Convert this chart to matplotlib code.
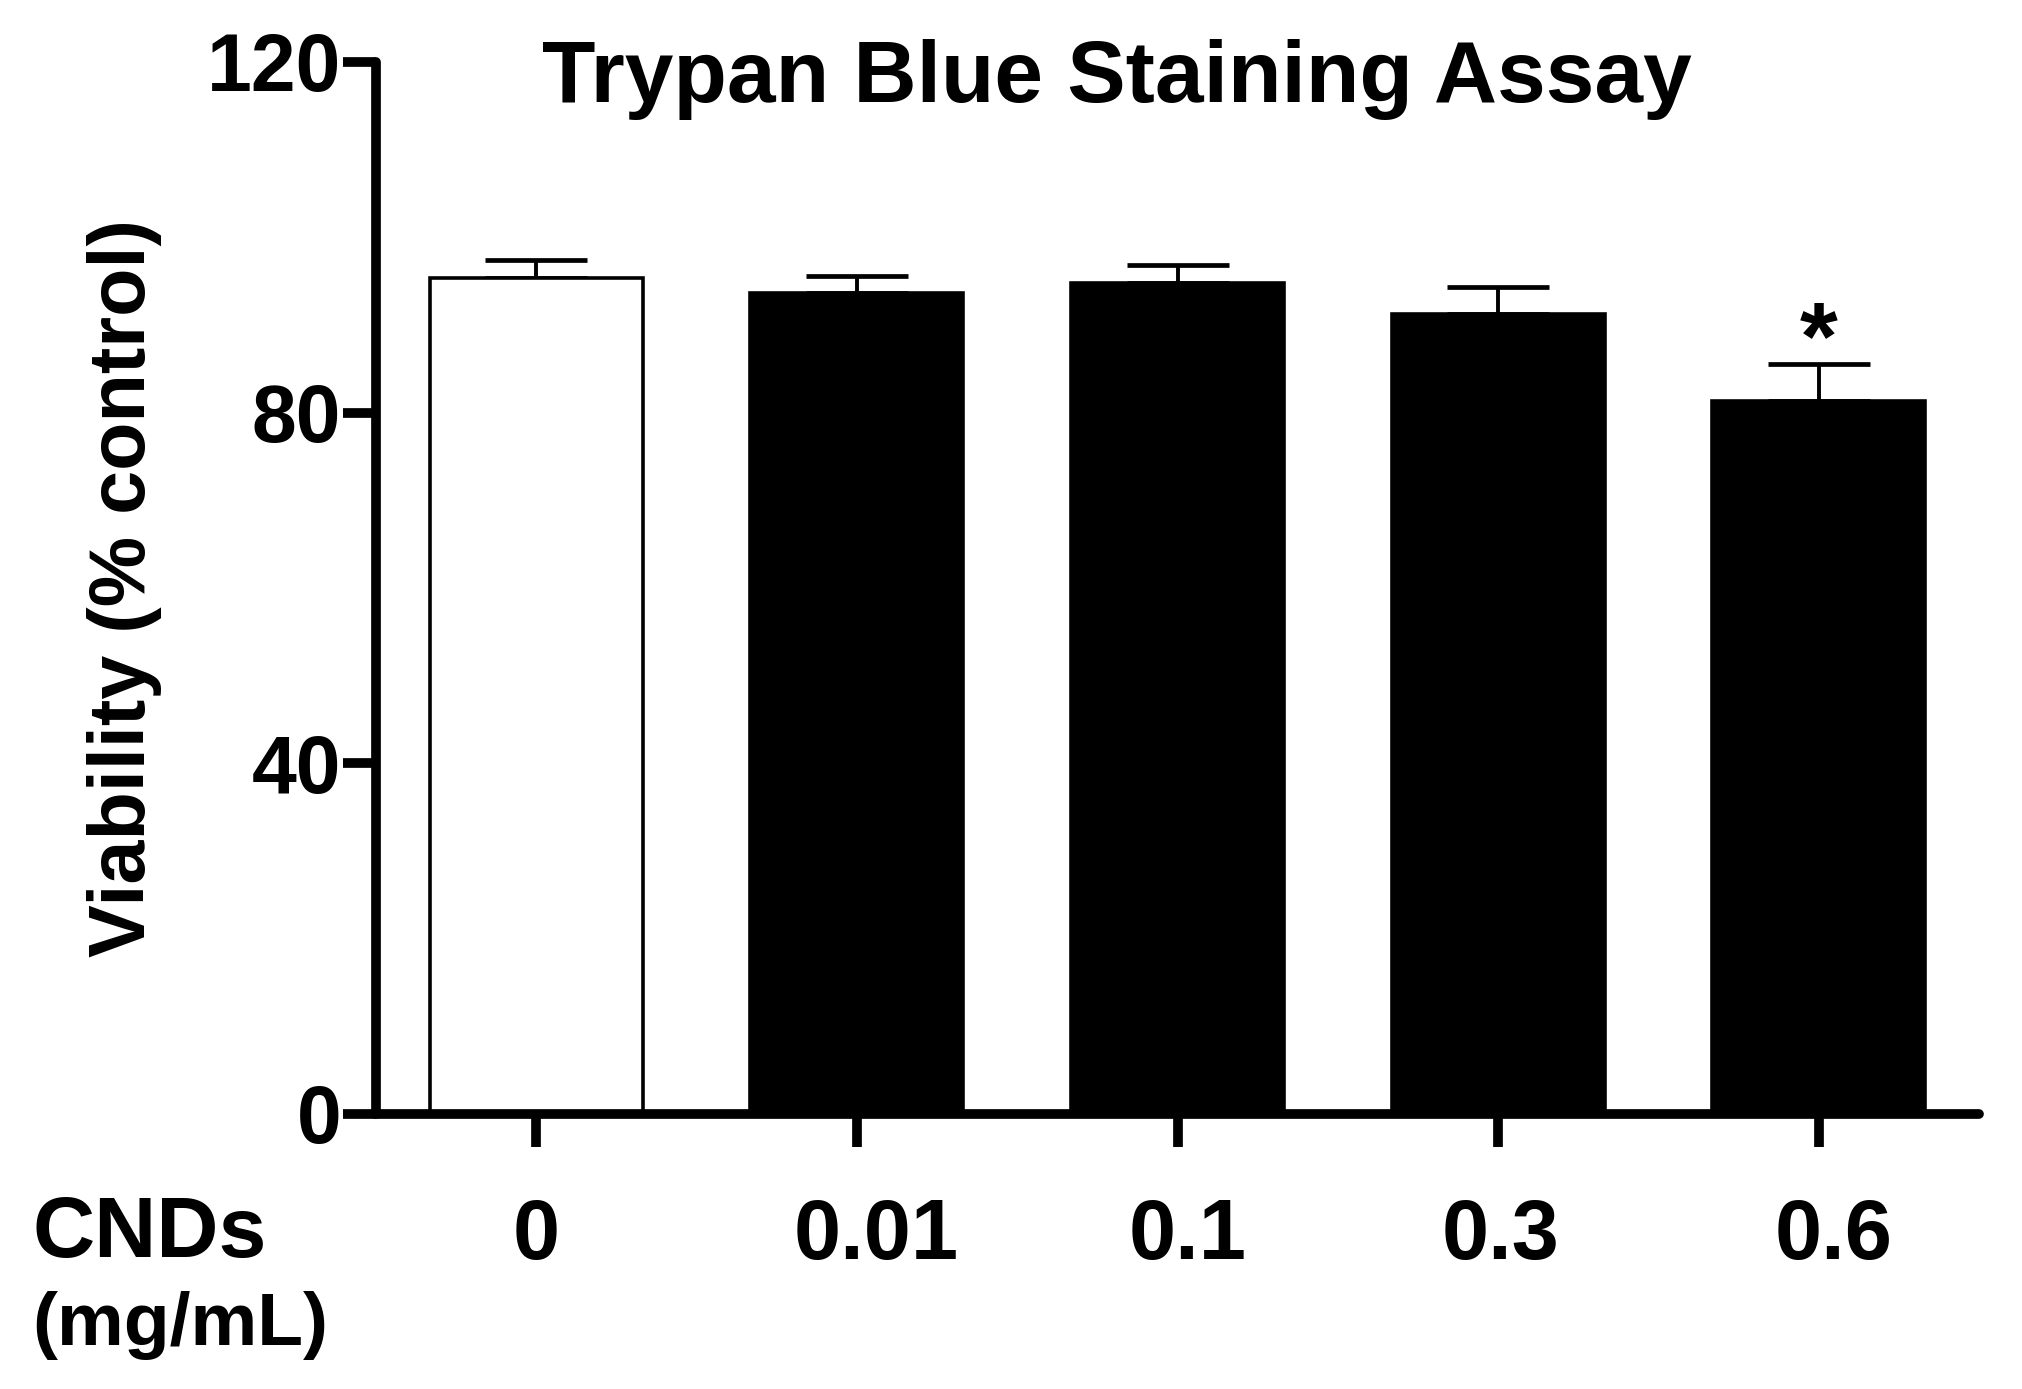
import matplotlib
matplotlib.use("Agg")
import matplotlib.pyplot as plt
import numpy as np

# ---- data ----
categories = ["0", "0.01", "0.1", "0.3", "0.6"]
viability = [95.4, 93.7, 94.8, 91.3, 81.3]
sem = [2.0, 1.9, 2.1, 3.0, 4.3]
bar_colors = ["white", "black", "black", "black", "black"]
significant = [False, False, False, False, True]
yticks = [0, 40, 80, 120]

plt.rcParams['font.family'] = ['Liberation Sans', 'DejaVu Sans']
plt.rcParams['font.weight'] = 'bold'

fig = plt.figure(figsize=(20.22, 13.89), dpi=100)
ax = fig.add_axes([376/2022, 1 - 1114/1389, (1979-376)/2022, (1114-62)/1389])

x = np.arange(len(categories))
lower = np.zeros(len(sem))
ax.errorbar(x, viability, yerr=[lower, sem], fmt='none', ecolor='black',
            elinewidth=2.8, capsize=37, capthick=3.4, zorder=1)
ax.bar(x, viability, width=0.665, color=bar_colors, edgecolor='black',
       linewidth=2.6, zorder=2)

for xi, v, e, s in zip(x, viability, sem, significant):
    if s:
        ax.annotate("*", xy=(xi, v + e), xytext=(0, -4), textcoords='offset points',
                    ha='center', va='baseline', fontsize=70, fontweight='bold')

ax.set_xlim(-0.5, 4.5)
ax.set_ylim(0, 120)
ax.set_yticks(yticks)
ax.set_yticklabels([str(t) for t in yticks], fontsize=58, fontweight='bold')
ax.set_xticks(x)
ax.set_xticklabels([''] * len(categories))

# category labels under the ticks, with the small horizontal shifts of the original (points)
label_shift = [0, 14, 7, 2, 11]
for xi, lab, dx in zip(x, categories, label_shift):
    ax.annotate(lab, xy=(xi, 0), xycoords=('data', 'axes fraction'),
                xytext=(dx, -60), textcoords='offset points',
                ha='center', va='top', fontsize=61, fontweight='bold',
                annotation_clip=False)

for side in ['top', 'right']:
    ax.spines[side].set_visible(False)
for side in ['left', 'bottom']:
    ax.spines[side].set_linewidth(7)
    ax.spines[side].set_capstyle('round')
ax.tick_params(axis='both', direction='out', length=24, width=7, color='black')
ax.tick_params(axis='y', pad=1)

ax.set_ylabel("Viability (% control)", fontsize=57, fontweight='bold')
ax.yaxis.set_label_coords((125 - 376) / 1603, 0.5)
ax.yaxis.label.set_va('center')

fig.text(1117/2022, 1 - 80/1389, "Trypan Blue Staining Assay", ha='center', va='center',
         fontsize=63, fontweight='bold')
fig.text(32/2022, 1 - 1257/1389, "CNDs", ha='left', va='baseline', fontsize=62, fontweight='bold')
fig.text(32/2022, 1 - 1325/1389, "(mg/mL)", ha='left', va='center', fontsize=54, fontweight='bold')

fig.savefig("out.png", dpi=100)
